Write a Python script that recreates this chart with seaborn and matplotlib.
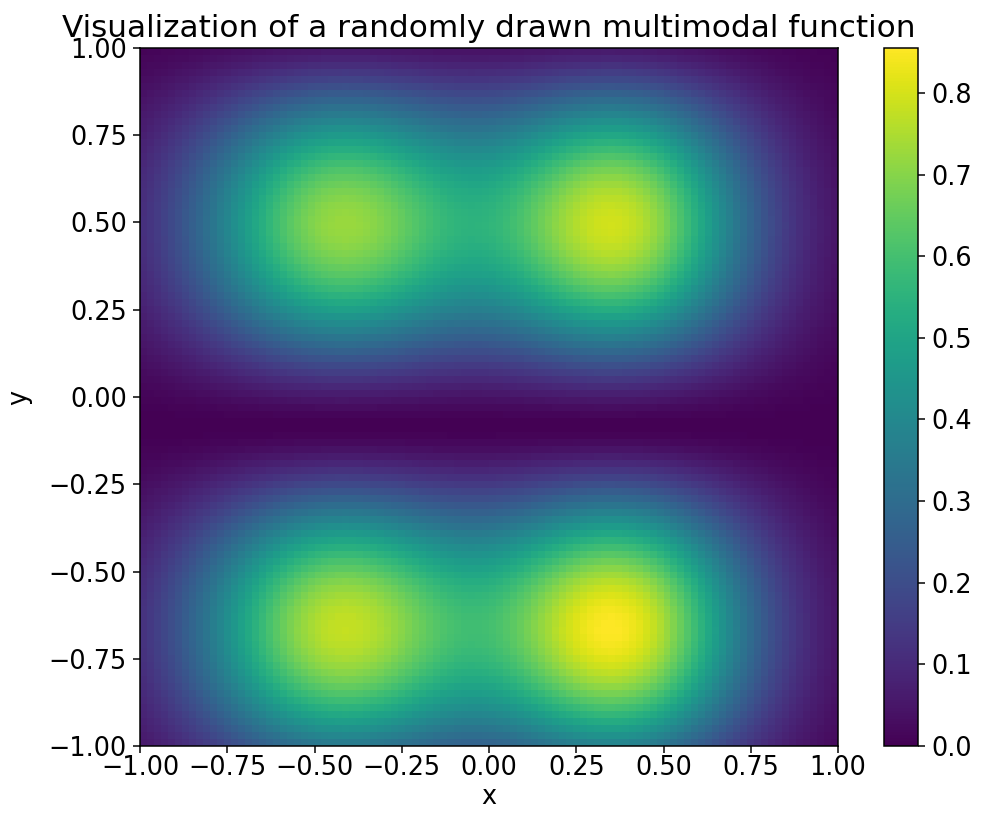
import numpy as np
import matplotlib
matplotlib.use('Agg')
import matplotlib.pyplot as plt
import seaborn as sns

""" Data read off the picture """

# the surface splits into a profile along x times a profile along y
# x profile: two bumps (centre, relative height, spread)
x_peak   = [-0.43, 0.37]
x_height = [0.90, 0.975]
x_spread = [0.30, 0.27]

# y profile: two bumps that meet at the dark band near y = -0.08
y_peak   = [0.50, -0.67]
y_height = [0.93, 1.00]
y_half   = [0.585, 0.585]
y_power  = 1.7  # shape of the bumps (2 would be a plain cos^2 bump)

z_max = 0.855  # top of the colour bar

n_grid = 100  # cells per side
x_ticks = [-1.0, -0.75, -0.5, -0.25, 0.0, 0.25, 0.5, 0.75, 1.0]
y_ticks = [-1.0, -0.75, -0.5, -0.25, 0.0, 0.25, 0.5, 0.75, 1.0]

""" Build the surface """

xs = np.linspace(-1, 1, n_grid)
ys = np.linspace(1, -1, n_grid)  # first row is the top (y = 1)

gx = np.zeros(n_grid)
for c, h, s in zip(x_peak, x_height, x_spread):
    gx += h * np.exp(-(xs - c) ** 2 / (2 * s ** 2))

hy = np.zeros(n_grid)
for c, h, w in zip(y_peak, y_height, y_half):
    d = np.abs(ys - c)
    hy += np.where(d < w, h * np.abs(np.cos(np.pi * d / (2 * w))) ** y_power, 0.0)

Z = np.outer(hy, gx)
Z = Z / Z.max() * z_max


def _fmt(v):
    return f"{v:.2f}".replace("-", "\u2212")


""" Plot """

FS = 13.5
fig = plt.figure(figsize=(981 / 136, 825 / 136), dpi=136)
ax = fig.add_axes([140 / 981, 79 / 825, 698 / 981, 698 / 825])
cax = fig.add_axes([884 / 981, 79 / 825, 34 / 981, 698 / 825])

sns.heatmap(Z, ax=ax, cbar_ax=cax, cmap='viridis', vmin=0,
            xticklabels=False, yticklabels=False)

ax.set_xticks([(v + 1) / 2 * n_grid for v in x_ticks])
ax.set_xticklabels([_fmt(v) for v in x_ticks], rotation=0, fontsize=FS)
ax.set_yticks([(1 - v) / 2 * n_grid for v in y_ticks])
ax.set_yticklabels([_fmt(v) for v in y_ticks], rotation=0, fontsize=FS)
ax.tick_params(axis='x', pad=1.5)

# heatmap hides these, the reference has them
for s in ax.spines.values():
    s.set_visible(True)
    s.set_linewidth(0.8)
cbar = ax.collections[0].colorbar
cbar.outline.set_linewidth(0.8)
cbar.outline.set_edgecolor('black')
cbar.ax.tick_params(labelsize=FS)

ax.set_xlabel('x', fontsize=FS, labelpad=1.5)
ax.set_ylabel('y', fontsize=FS, labelpad=8.5)
ax.set_title('Visualization of a randomly drawn multimodal function', fontsize=16.5)

fig.savefig('out.png', dpi=136)
